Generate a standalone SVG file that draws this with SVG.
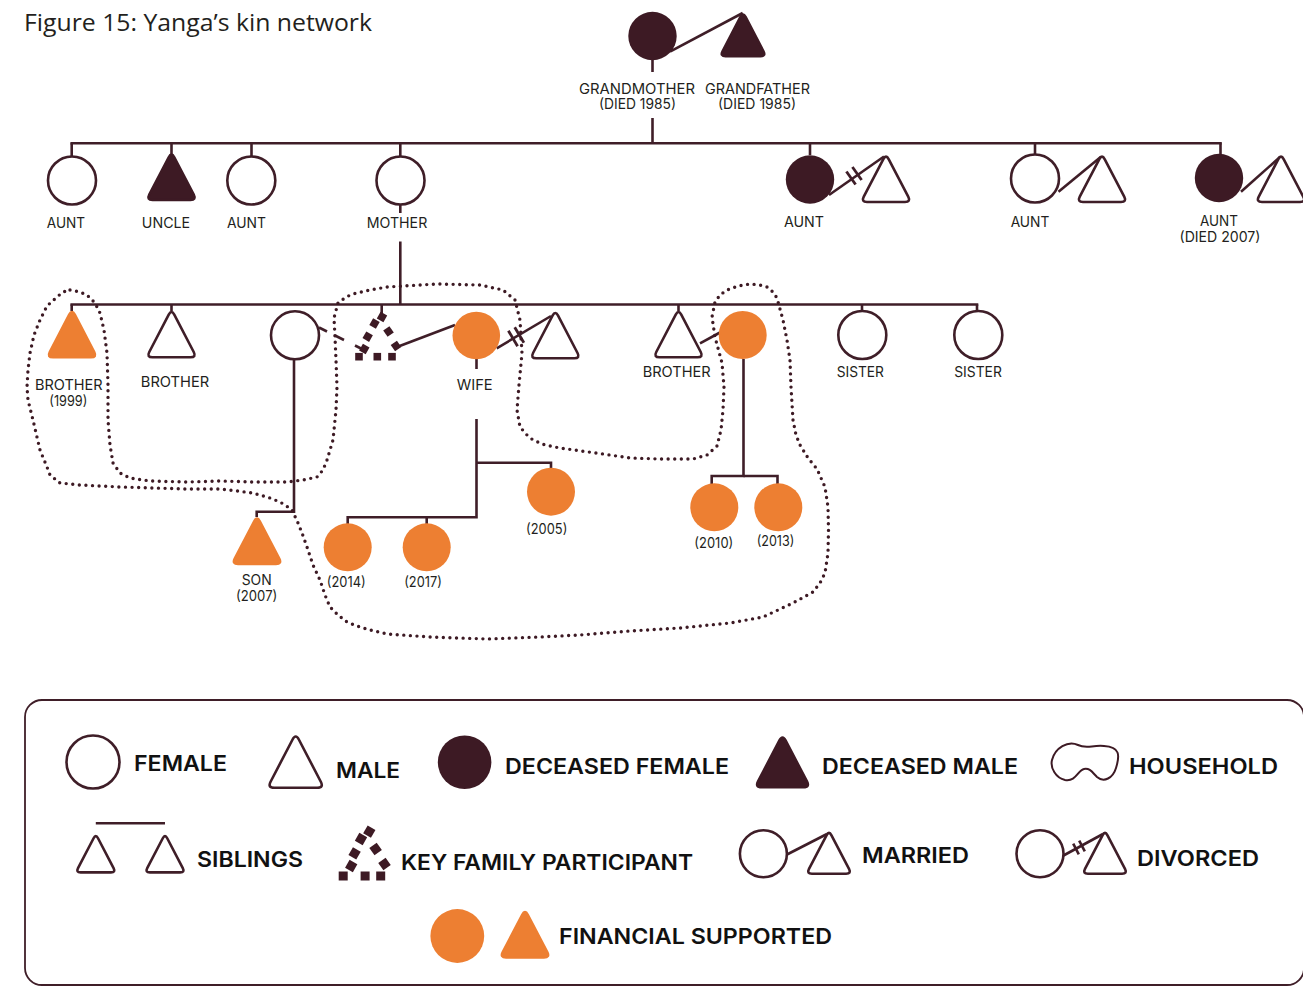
<svg xmlns="http://www.w3.org/2000/svg" xmlns:xlink="http://www.w3.org/1999/xlink" width="1303" height="987" viewBox="0 0 1303 987">
<style>
.ln{fill:none;stroke:#3f1e28;stroke-width:2.6}
.hs{fill:none;stroke:#3f1e28;stroke-width:2.8}
.op{fill:#fff;stroke:#3f1e28;stroke-width:2.6}
.dc{fill:#3d1a24;stroke:#3d1a24;stroke-width:2.6}
.dcc{fill:#3d1a24}
.or{fill:#ED7F32;stroke:#ED7F32;stroke-width:2.6}
.orc{fill:#ED7F32}
.sq{fill:#3d1a24}
.hh{fill:none;stroke:#3d1a24;stroke-width:3.4;stroke-linecap:round;stroke-linejoin:round;stroke-dasharray:0 6.6}
.lb{font-family:Inter,"Liberation Sans",sans-serif;font-size:14px;fill:#231f20;text-anchor:middle}
.lg{font-family:Inter,"Liberation Sans",sans-serif;font-size:21.5px;font-weight:600;fill:#111}
.tt{font-family:"Open Sans","Liberation Sans",sans-serif;font-size:24px;fill:#231f20}
</style>
<defs>
<path id="tri" vector-effect="non-scaling-stroke" d="M2.77,5.32 L22.23,42.68 Q25,48 19,48 L-19,48 Q-25,48 -22.23,42.68 L-2.77,5.32 Q0,0 2.77,5.32Z"/>
<rect id="sq" x="-3.8" y="-3.8" width="7.6" height="7.6"/>
</defs>

<rect width="1303" height="987" fill="#fff"/>
<text class="tt" x="24" y="31" textLength="348" lengthAdjust="spacingAndGlyphs">Figure 15: Yanga’s kin network</text>

<g id="connectors">
  <!-- grandparents -->
  <line class="ln" x1="670" y1="51.7" x2="742.7" y2="13"/>
  <line class="ln" x1="652.5" y1="60" x2="652.5" y2="72"/>
  <line class="ln" x1="652.5" y1="118" x2="652.5" y2="143.3"/>
  <line class="ln" x1="70.4" y1="143.3" x2="1221.8" y2="143.3"/>
  <line class="ln" x1="71.7" y1="143.3" x2="71.7" y2="156"/>
  <line class="ln" x1="171.5" y1="143.3" x2="171.5" y2="154"/>
  <line class="ln" x1="251.5" y1="143.3" x2="251.5" y2="156"/>
  <line class="ln" x1="400.3" y1="143.3" x2="400.3" y2="156"/>
  <line class="ln" x1="810" y1="143.3" x2="810" y2="155"/>
  <line class="ln" x1="1035" y1="143.3" x2="1035" y2="154"/>
  <line class="ln" x1="1220.5" y1="143.3" x2="1220.5" y2="154"/>
  <!-- aunt marriages -->
  <line class="ln" x1="829" y1="195" x2="884" y2="156.5"/>
  <line class="hs" x1="846.4" y1="171.5" x2="855.6" y2="184.5"/>
  <line class="hs" x1="852.4" y1="167" x2="861.6" y2="180"/>
  <line class="ln" x1="1058.5" y1="191.7" x2="1101" y2="156.7"/>
  <line class="ln" x1="1241" y1="191.7" x2="1280" y2="157"/>
  <!-- mother to siblings -->
  <line class="ln" x1="400.3" y1="205" x2="400.3" y2="213"/>
  <line class="ln" x1="400.3" y1="241.5" x2="400.3" y2="304.5"/>
  <line class="ln" x1="70.4" y1="304.5" x2="978.3" y2="304.5"/>
  <line class="ln" x1="71.7" y1="304.5" x2="71.7" y2="311"/>
  <line class="ln" x1="171.5" y1="304.5" x2="171.5" y2="311"/>
  <line class="ln" x1="381.7" y1="304.5" x2="381.7" y2="314"/>
  <line class="ln" x1="678.5" y1="304.5" x2="678.5" y2="311"/>
  <line class="ln" x1="862" y1="304.5" x2="862" y2="311"/>
  <line class="ln" x1="977" y1="304.5" x2="977" y2="311"/>
  <!-- partner of circle to key participant -->
  <line class="ln" x1="319" y1="327.5" x2="327" y2="331.5"/>
  <line class="ln" x1="335" y1="335.5" x2="344" y2="340"/>
  <line class="ln" x1="355" y1="345.5" x2="362" y2="349"/>
  <!-- circle to son -->
  <polyline class="ln" points="294,359 294,511.7 256.7,511.7 256.7,517"/>
  <!-- key to wife -->
  <line class="ln" x1="397" y1="347" x2="455" y2="325"/>
  <!-- wife divorced -->
  <line class="ln" x1="496.7" y1="348.3" x2="551" y2="316"/>
  <line class="hs" x1="508.4" y1="330.8" x2="517.6" y2="346.2"/>
  <line class="hs" x1="514.7" y1="327.3" x2="523.9" y2="342.7"/>
  <!-- wife children -->
  <line class="ln" x1="476.5" y1="359" x2="476.5" y2="369"/>
  <polyline class="ln" points="476.5,419 476.5,517.3 347.7,517.3 347.7,524"/>
  <line class="ln" x1="426.7" y1="517.3" x2="426.7" y2="524"/>
  <polyline class="ln" points="476.5,462.7 551,462.7 551,468.5"/>
  <!-- brother marriage and children -->
  <line class="ln" x1="700" y1="343.3" x2="720" y2="332.5"/>
  <polyline class="ln" points="743.5,359 743.5,476 711.7,476 711.7,484"/>
  <polyline class="ln" points="743.5,476 777.5,476 777.5,484"/>
</g>

<g id="household">
  <path class="hh" d="M70,290 L80,292 L87,295 L95,303 L100,313 L104,330 L107,353 L108,385 L108,420 L110,445 L113,463 L120,473 L130,478 L150,481 L187,482 L220,481 L253,482 L287,482 L303,480 L317,477 L323,470 L327,460 L333,440 L336,410 L337,387 L336,360 L335,337 L334,318 L338,303 L346,297 L353,294 L370,290 L387,287 L437,284 L480,285 L503,290 L515,300 L520,320 L522,353 L519,385 L517,410 L520,427 L527,435 L533,440 L545,445 L560,448 L603,454 L630,458 L660,459 L693,459 L707,455 L717,446 L721,430 L723,410 L724,387 L722,363 L715,337 L712,317 L715,302 L720,295 L727,290 L738,286 L750,284 L760,285 L767,287 L773,292 L777,298 L783,320 L787,340 L790,360 L791,387 L793,420 L796,435 L800,445 L808,458 L817,469 L825,487 L828,507 L828.5,530 L828,553 L825,573 L820,583 L813,592 L793,603 L763,617 L730,623 L680,628 L630,631 L580,635 L540,637 L487,639 L430,637 L387,634 L370,630 L357,626 L347,622 L338,615 L330,607 L325,595 L320,580 L313,565 L307,547 L302,533 L298,523 L292,510 L285,505 L280,502 L270,498 L253,493 L237,491 L220,489 L187,489 L120,487 L80,485 L60,483 L50,475 L47,467 L40,450 L33,420 L28,400 L27,387 L28,370 L30,353 L34,335 L40,320 L47,306 L57,297 L63,292 Z"/>
</g>

<g id="grandmother">
  <circle class="dcc" cx="652.5" cy="36" r="24.2"/>
  <text class="lb" x="637" y="94" textLength="116" lengthAdjust="spacingAndGlyphs">GRANDMOTHER</text>
  <text class="lb" x="637.5" y="108.5" textLength="77" lengthAdjust="spacingAndGlyphs">(DIED 1985)</text>
</g>
<g id="grandfather">
  <use xlink:href="#tri" class="dc" transform="translate(743,12) scale(0.92)"/>
  <text class="lb" x="757.5" y="94" textLength="105" lengthAdjust="spacingAndGlyphs">GRANDFATHER</text>
  <text class="lb" x="757" y="108.5" textLength="78" lengthAdjust="spacingAndGlyphs">(DIED 1985)</text>
</g>

<g id="aunt1">
  <circle class="op" cx="72" cy="180.5" r="24"/>
  <text class="lb" x="66" y="227.5" textLength="38.3" lengthAdjust="spacingAndGlyphs">AUNT</text>
</g>
<g id="uncle">
  <use xlink:href="#tri" class="dc" transform="translate(171.5,152)"/>
  <text class="lb" x="166" y="227.5" textLength="48.3" lengthAdjust="spacingAndGlyphs">UNCLE</text>
</g>
<g id="aunt2">
  <circle class="op" cx="251.3" cy="180.5" r="24"/>
  <text class="lb" x="246.5" y="227.5" textLength="39" lengthAdjust="spacingAndGlyphs">AUNT</text>
</g>
<g id="mother">
  <circle class="op" cx="400.5" cy="180.5" r="24"/>
  <text class="lb" x="397" y="227.5" textLength="60.6" lengthAdjust="spacingAndGlyphs">MOTHER</text>
</g>
<g id="aunt3">
  <circle class="dcc" cx="810" cy="179.5" r="24.2"/>
  <use xlink:href="#tri" class="op" transform="translate(886,154)"/>
  <text class="lb" x="804" y="227" textLength="40" lengthAdjust="spacingAndGlyphs">AUNT</text>
</g>
<g id="aunt4">
  <circle class="op" cx="1035" cy="178.5" r="24"/>
  <use xlink:href="#tri" class="op" transform="translate(1102,154)"/>
  <text class="lb" x="1030" y="227" textLength="38.7" lengthAdjust="spacingAndGlyphs">AUNT</text>
</g>
<g id="aunt5">
  <circle class="dcc" cx="1219" cy="178" r="24.2"/>
  <use xlink:href="#tri" class="op" transform="translate(1281,154)"/>
  <text class="lb" x="1219" y="226" textLength="38" lengthAdjust="spacingAndGlyphs">AUNT</text>
  <text class="lb" x="1220" y="242" textLength="81" lengthAdjust="spacingAndGlyphs">(DIED 2007)</text>
</g>

<g id="brother1999">
  <use xlink:href="#tri" class="or" transform="translate(72,309.3)"/>
  <text class="lb" x="68.8" y="390" textLength="67.7" lengthAdjust="spacingAndGlyphs">BROTHER</text>
  <text class="lb" x="68.3" y="405.5" textLength="38" lengthAdjust="spacingAndGlyphs">(1999)</text>
</g>
<g id="brother2">
  <use xlink:href="#tri" class="op" transform="translate(171.5,309.3)"/>
  <text class="lb" x="175" y="386.5" textLength="68.3" lengthAdjust="spacingAndGlyphs">BROTHER</text>
</g>
<g id="partner">
  <circle class="op" cx="295" cy="335.3" r="24"/>
</g>
<g id="key-participant">
  <use xlink:href="#sq" class="sq" transform="translate(382,317) rotate(30)"/>
  <use xlink:href="#sq" class="sq" transform="translate(374.5,323.5) rotate(30)"/>
  <use xlink:href="#sq" class="sq" transform="translate(388.5,331.5) rotate(-35)"/>
  <use xlink:href="#sq" class="sq" transform="translate(367.7,336.7) rotate(30)"/>
  <use xlink:href="#sq" class="sq" transform="translate(396,346) rotate(-35)"/>
  <use xlink:href="#sq" class="sq" transform="translate(364.3,349) rotate(30)"/>
  <use xlink:href="#sq" class="sq" transform="translate(359,356.7)"/>
  <use xlink:href="#sq" class="sq" transform="translate(377.3,356.7)"/>
  <use xlink:href="#sq" class="sq" transform="translate(392,356.7)"/>
</g>
<g id="wife">
  <circle class="orc" cx="476.3" cy="335.5" r="23.8"/>
  <text class="lb" x="474.7" y="390" textLength="36" lengthAdjust="spacingAndGlyphs">WIFE</text>
</g>
<g id="wife-ex">
  <use xlink:href="#tri" class="op" transform="translate(555.3,310.3)"/>
</g>
<g id="brother3">
  <use xlink:href="#tri" class="op" transform="translate(678.5,309.3)"/>
  <text class="lb" x="676.7" y="377" textLength="68" lengthAdjust="spacingAndGlyphs">BROTHER</text>
</g>
<g id="brother3-wife">
  <circle class="orc" cx="742.7" cy="335" r="24"/>
</g>
<g id="sister1">
  <circle class="op" cx="862.3" cy="335" r="24"/>
  <text class="lb" x="860.3" y="377" textLength="47.3" lengthAdjust="spacingAndGlyphs">SISTER</text>
</g>
<g id="sister2">
  <circle class="op" cx="978.3" cy="335" r="24"/>
  <text class="lb" x="978" y="377" textLength="47.7" lengthAdjust="spacingAndGlyphs">SISTER</text>
</g>

<g id="son2007">
  <use xlink:href="#tri" class="or" transform="translate(257,516)"/>
  <text class="lb" x="256.7" y="585" textLength="30" lengthAdjust="spacingAndGlyphs">SON</text>
  <text class="lb" x="256.7" y="601" textLength="41.3" lengthAdjust="spacingAndGlyphs">(2007)</text>
</g>
<g id="child2014">
  <circle class="orc" cx="347.7" cy="547.3" r="24"/>
  <text class="lb" x="346.2" y="586.5" textLength="39" lengthAdjust="spacingAndGlyphs">(2014)</text>
</g>
<g id="child2017">
  <circle class="orc" cx="426.7" cy="547.3" r="24"/>
  <text class="lb" x="423" y="586.5" textLength="37.7" lengthAdjust="spacingAndGlyphs">(2017)</text>
</g>
<g id="child2005">
  <circle class="orc" cx="551" cy="491.7" r="24"/>
  <text class="lb" x="546.7" y="533.5" textLength="41.3" lengthAdjust="spacingAndGlyphs">(2005)</text>
</g>
<g id="child2010">
  <circle class="orc" cx="714.3" cy="507.3" r="24"/>
  <text class="lb" x="713.8" y="547.5" textLength="39" lengthAdjust="spacingAndGlyphs">(2010)</text>
</g>
<g id="child2013">
  <circle class="orc" cx="778.3" cy="507.3" r="24"/>
  <text class="lb" x="775.5" y="545.5" textLength="37.7" lengthAdjust="spacingAndGlyphs">(2013)</text>
</g>

<g id="legend">
  <rect x="25" y="700" width="1279" height="285" rx="17" fill="none" stroke="#3f1e28" stroke-width="1.8"/>
  <circle class="op" cx="93" cy="762" r="26.5"/>
  <text class="lg" x="134" y="771" textLength="93" lengthAdjust="spacingAndGlyphs">FEMALE</text>
  <use xlink:href="#tri" class="op" transform="translate(295.7,733.5) scale(1.13)"/>
  <text class="lg" x="336" y="777.5" textLength="64" lengthAdjust="spacingAndGlyphs">MALE</text>
  <circle class="dcc" cx="464.6" cy="762.3" r="26.8"/>
  <text class="lg" x="505" y="773.5" textLength="224" lengthAdjust="spacingAndGlyphs">DECEASED FEMALE</text>
  <use xlink:href="#tri" class="dc" transform="translate(782.5,734.5) scale(1.1)"/>
  <text class="lg" x="822" y="773.5" textLength="196" lengthAdjust="spacingAndGlyphs">DECEASED MALE</text>
  <path fill="none" stroke="#3d1a24" stroke-width="2" d="M1052,760 C1055,748 1068,740 1078,745 C1086,749 1092,745 1104,746 C1120,747 1120,755 1116,768 C1113,778 1104,783 1097,777 C1092,772 1090,768 1084,769 C1078,770 1076,782 1065,780 C1056,778 1050,768 1052,760 Z"/>
  <text class="lg" x="1129" y="773.5" textLength="149" lengthAdjust="spacingAndGlyphs">HOUSEHOLD</text>

  <line class="ln" x1="95.8" y1="823.3" x2="165" y2="823.3"/>
  <use xlink:href="#tri" class="op" transform="translate(95.8,834) scale(0.8)"/>
  <use xlink:href="#tri" class="op" transform="translate(165,834) scale(0.8)"/>
  <text class="lg" x="197" y="867" textLength="106" lengthAdjust="spacingAndGlyphs">SIBLINGS</text>
  <g transform="translate(0,0)">
    <rect class="sq" x="364.8" y="827.2" width="9" height="9" transform="rotate(30 369.3 831.7)"/>
    <rect class="sq" x="356.5" y="834.5" width="9" height="9" transform="rotate(30 361 839)"/>
    <rect class="sq" x="371.1" y="844.5" width="9" height="9" transform="rotate(-35 375.6 849)"/>
    <rect class="sq" x="350.1" y="848.8" width="9" height="9" transform="rotate(30 354.6 853.3)"/>
    <rect class="sq" x="380" y="859.5" width="9" height="9" transform="rotate(-35 384.5 864)"/>
    <rect class="sq" x="346.7" y="861.5" width="9" height="9" transform="rotate(30 351.2 866)"/>
    <rect class="sq" x="338.7" y="871.5" width="9" height="9"/>
    <rect class="sq" x="360.6" y="871.5" width="9" height="9"/>
    <rect class="sq" x="376.2" y="871.5" width="9" height="9"/>
  </g>
  <text class="lg" x="401" y="869.5" textLength="292" lengthAdjust="spacingAndGlyphs">KEY FAMILY PARTICIPANT</text>
  <circle class="op" cx="763.4" cy="853.8" r="23.5"/>
  <line class="ln" x1="787" y1="854.5" x2="827" y2="834"/>
  <use xlink:href="#tri" class="op" transform="translate(829,830.5) scale(0.9)"/>
  <text class="lg" x="862" y="863" textLength="107" lengthAdjust="spacingAndGlyphs">MARRIED</text>
  <circle class="op" cx="1040" cy="853.8" r="23.5"/>
  <line class="ln" x1="1063.5" y1="855.5" x2="1103" y2="834"/>
  <line class="ln" stroke-width="2" x1="1073.2" y1="843.7" x2="1078.8" y2="854.3"/>
  <line class="ln" stroke-width="2" x1="1079.2" y1="840.7" x2="1084.8" y2="851.3"/>
  <use xlink:href="#tri" class="op" transform="translate(1105,830.5) scale(0.9)"/>
  <text class="lg" x="1137" y="866" textLength="122" lengthAdjust="spacingAndGlyphs">DIVORCED</text>

  <circle class="orc" cx="457.3" cy="936" r="26.9"/>
  <use xlink:href="#tri" class="or" transform="translate(525,909.5)"/>
  <text class="lg" x="559" y="943.5" textLength="273" lengthAdjust="spacingAndGlyphs">FINANCIAL SUPPORTED</text>
</g>
</svg>
